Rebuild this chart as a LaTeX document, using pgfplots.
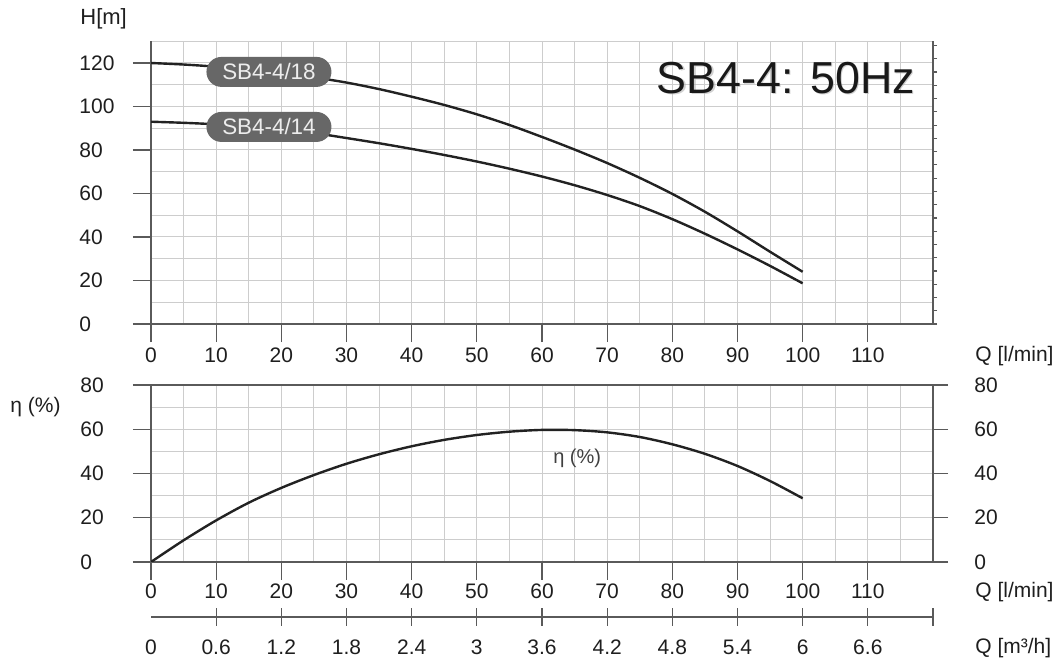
\documentclass[border=0pt]{standalone}
\usepackage{fontspec}
\setmainfont{Liberation Sans}
\usepackage{pgfplots}
\pgfplotsset{compat=1.18}
\definecolor{axisc}{HTML}{5A5A5A}
\definecolor{gridc}{HTML}{CDCDCD}
\definecolor{curvec}{HTML}{222222}
\definecolor{textc}{HTML}{1E1E1E}
\definecolor{pill}{HTML}{676767}

\pgfplotstableread{
Q H
0 120
5 119.3
10 118.3
15 117.0
20 115.4
25 113.4
30 111.0
35 108.0
40 104.5
45 100.7
50 96.4
55 91.5
60 86.0
65 80.2
70 74.0
75 67.2
80 59.8
85 51.6
90 42.6
95 33.2
100 24.0
}\sbeighteen

\pgfplotstableread{
Q H
0 93
5 92.5
10 91.8
15 90.8
20 89.5
25 87.8
30 85.5
35 83.1
40 80.5
45 77.7
50 74.7
55 71.4
60 67.8
65 63.8
70 59.3
75 54.2
80 48.2
85 41.5
90 34.3
95 26.7
100 18.7
}\sbfourteen

\pgfplotstableread{
Q E
0 0
5 9.8
10 18.8
15 26.8
20 33.5
25 39.3
30 44.4
35 48.7
40 52.3
45 55.2
50 57.4
55 58.9
60 59.7
65 59.6
70 58.6
75 56.5
80 53.2
85 48.9
90 43.4
95 36.6
100 28.8
}\effic

\begin{document}
\begin{tikzpicture}[font=\fontsize{10.5bp}{12.6bp}\selectfont, text=textc]
\useasboundingbox (0,0) rectangle (530.5bp,331bp);
\pgfplotsset{
  common/.style={scale only axis, width=391bp, xmin=0, xmax=120,
    enlargelimits=false, anchor=south west,
    axis line style={axisc, line width=0.6bp},
    tick style={axisc, line width=0.6bp},
    tick align=outside, minor tick length=0pt,
    grid style={gridc, line width=0.5bp},
    minor grid style={gridc, line width=0.5bp},
    tick label style={font=\fontsize{10.5bp}{12.6bp}\selectfont, text=textc},
    xticklabel style={anchor=north, inner sep=0pt},
    yticklabel style={anchor=west, inner sep=0pt},
  },
}
% ---------- upper panel ----------
\begin{axis}[common, at={(75.5bp,169bp)}, height=141.375bp, ymin=0, ymax=130,
  axis x line*=bottom, axis y line*=left,
  xticklabel style={yshift=-2.5bp},
  yticklabel style={xshift=-27bp},
  xtick={0,10,...,110}, xticklabels={0,10,20,30,40,50,60,70,80,90,100,110},
  minor xtick={5,15,...,115},
  ytick={0,20,...,120}, yticklabels={0,20,40,60,80,100,120},
  minor ytick={10,30,...,130},
  grid=both, major tick length=9bp]
\addplot[curvec, line width=1.2bp, smooth] table[x=Q, y=H] {\sbeighteen};
\addplot[curvec, line width=1.2bp, smooth] table[x=Q, y=H] {\sbfourteen};
\node[fill=pill, text=white!93!black, rounded corners=7.5bp, minimum width=62.5bp,
  minimum height=15bp, inner sep=0pt, font=\fontsize{11.2bp}{13bp}\selectfont]
  at (axis cs:18.1,115.9) {SB4-4/18};
\node[fill=pill, text=white!93!black, rounded corners=7.5bp, minimum width=62.5bp,
  minimum height=15bp, inner sep=0pt, font=\fontsize{11.2bp}{13bp}\selectfont]
  at (axis cs:18.1,90.6) {SB4-4/14};
\end{axis}
% right spine with 20 ft ticks
\begin{axis}[common, at={(75.5bp,169bp)}, height=141.375bp, ymin=0, ymax=130,
  axis x line=none, axis y line*=right,
  ytick={0,6.096,12.192,18.288,24.384,30.48,36.576,42.672,48.768,54.864,60.96,67.056,73.152,79.248,85.344,91.44,97.536,103.632,109.728,115.824,121.92,128.016},
  yticklabels={}, major tick length=2bp]
\addplot[draw=none] coordinates {(0,0)};
\end{axis}
% ---------- lower panel ----------
\begin{axis}[common, at={(75.5bp,50bp)}, height=88.5bp, ymin=0, ymax=80,
  xtick pos=lower, ytick pos=left,
  xticklabel style={yshift=-1.5bp},
  yticklabel style={xshift=-26.5bp},
  xtick={0,10,...,110}, xticklabels={0,10,20,30,40,50,60,70,80,90,100,110},
  minor xtick={5,15,...,115},
  ytick={0,20,...,80}, yticklabels={0,20,40,60,80},
  minor ytick={10,30,...,70},
  grid=both, major tick length=9bp]
\addplot[curvec, line width=1.2bp, smooth] table[x=Q, y=E] {\effic};
\node[font=\fontsize{10bp}{12bp}\selectfont, text=textc!85!white] at (axis cs:65.4,47) {η (\%)};
\end{axis}
\begin{axis}[common, at={(75.5bp,50bp)}, height=88.5bp, ymin=0, ymax=80,
  axis x line=none, axis y line*=right,
  ytick={0,20,...,80}, yticklabels={0,20,40,60,80},
  yticklabel style={anchor=west, inner sep=0pt, xshift=13bp},
  major tick length=7.5bp]
\addplot[draw=none] coordinates {(0,0)};
\end{axis}
% ---------- m3/h axis ----------
\begin{axis}[common, at={(75.5bp,22.5bp)}, height=10bp, ymin=0, ymax=1,
  axis x line*=bottom, axis y line=none, tick align=center,
  xticklabel style={yshift=-7bp},
  xtick={10,20,...,120}, xticklabels={0.6,1.2,1.8,2.4,3,3.6,4.2,4.8,5.4,6,6.6,{}},
  extra x ticks={0}, extra x tick labels={0}, extra x tick style={tick style={draw=none}},
  major tick length=8.5bp]
\addplot[draw=none] coordinates {(0,0)};
\end{axis}
% ---------- texts ----------
\node[anchor=west, inner sep=0pt] at (487.5bp,153bp) {Q [l/min]};
\node[anchor=west, inner sep=0pt] at (487.5bp,35bp) {Q [l/min]};
\node[anchor=west, inner sep=0pt] at (487.5bp,7bp) {Q [m³/h]};
\node[anchor=west, inner sep=0pt, font=\fontsize{11bp}{13bp}\selectfont] at (40bp,321.5bp) {H[m]};
\node[anchor=west, inner sep=0pt] at (5bp,127.5bp) {η (\%)};
\node[font=\fontsize{22.4bp}{26bp}\selectfont, text=gray!60, opacity=0.6] at (393.6bp,291.4bp) {SB4-4: 50Hz};
\node[font=\fontsize{22.4bp}{26bp}\selectfont, text=black!90] at (393bp,292bp) {SB4-4: 50Hz};
\end{tikzpicture}
\end{document}
